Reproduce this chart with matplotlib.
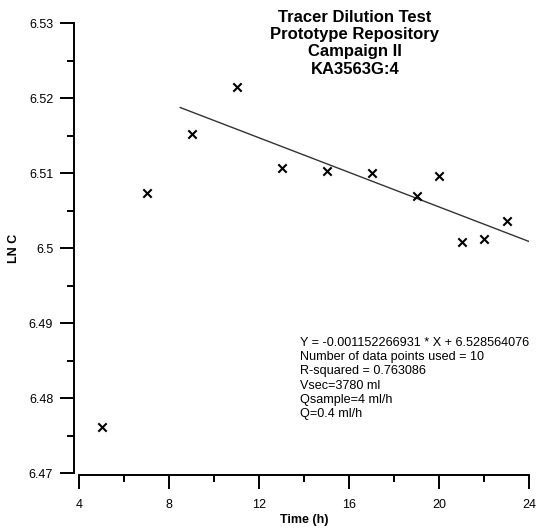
import matplotlib
matplotlib.use("Agg")
import matplotlib.pyplot as plt
import numpy as np
from matplotlib.ticker import MultipleLocator, FuncFormatter

plt.rcParams['font.family'] = ['Liberation Sans', 'DejaVu Sans']

time_h = [5, 7, 9, 11, 13, 15, 17, 19, 20, 21, 22, 23]
ln_c = [6.4762, 6.5074, 6.5153, 6.5215, 6.5107, 6.5103, 6.5100, 6.5070,
        6.5096, 6.5008, 6.5013, 6.5036]
slope = -0.001152266931
intercept = 6.528564076
fit_range = [8.5, 24]
title_lines = ["Tracer Dilution Test", "Prototype Repository", "Campaign II", "KA3563G:4"]
info_lines = ["Y = -0.001152266931 * X + 6.528564076",
              "Number of data points used = 10",
              "R-squared = 0.763086",
              "Vsec=3780 ml",
              "Qsample=4 ml/h",
              "Q=0.4 ml/h"]

W, H = 537, 530
fig = plt.figure(figsize=(W / 100, H / 100), dpi=100)
ax = fig.add_axes([79 / W, (H - 473.3) / H, 450 / W, 450 / H])

ax.scatter(time_h, ln_c, marker='x', s=36, color='black', linewidths=1.5, zorder=3)
fx = np.linspace(fit_range[0], fit_range[1], 2)
ax.plot(fx, slope * fx + intercept, color='#333333', lw=1.0)

ax.set_xlim(4, 24)
ax.set_ylim(6.47, 6.53)

for s in ['top', 'right']:
    ax.spines[s].set_visible(False)
ax.spines['left'].set_position(('outward', 3.6))
ax.spines['bottom'].set_position(('outward', 1.4))
for s in ['left', 'bottom']:
    ax.spines[s].set_linewidth(1.4)

ax.xaxis.set_major_locator(MultipleLocator(4))
ax.xaxis.set_minor_locator(MultipleLocator(2))
ax.yaxis.set_major_locator(MultipleLocator(0.01))
ax.yaxis.set_minor_locator(MultipleLocator(0.005))
ax.yaxis.set_major_formatter(FuncFormatter(lambda v, p: f"{round(v, 4):g}"))
ax.tick_params(which='major', direction='out', length=10, width=1.4, labelsize=9, pad=5, colors='black')
ax.tick_params(which='minor', direction='out', length=5, width=1.4)
ax.tick_params(axis='x', which='major', pad=7)

ax.set_xlabel("Time (h)", fontsize=9, fontweight='bold', labelpad=2)
ax.set_ylabel("LN C", fontsize=9, fontweight='bold', labelpad=6)

fig.text(355 / W, 1 - 9.5 / H, "\n".join(title_lines), ha='center', va='top',
         fontsize=12, fontweight='bold', linespacing=1.2)
fig.text(300 / W, 1 - 336.5 / H, "\n".join(info_lines), ha='left', va='top',
         fontsize=9.1, linespacing=1.26)

fig.savefig("out.png", dpi=100)
